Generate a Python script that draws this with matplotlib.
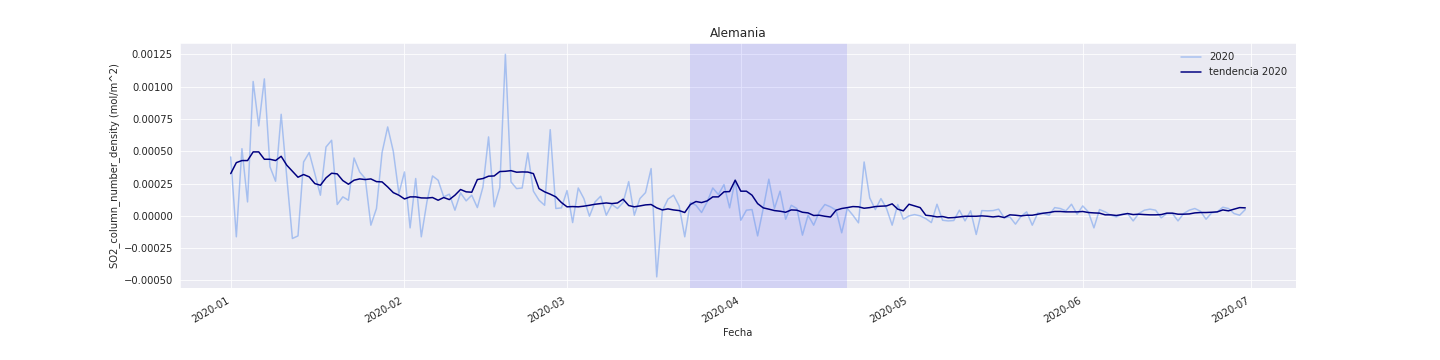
import matplotlib
matplotlib.use("Agg")
import matplotlib.pyplot as plt
import seaborn as sns
import numpy as np
import pandas as pd

# daily SO2 values, Germany 2020 (units of 1e-4 mol/m^2)
so2_2020 = [
    4.56, -1.62, 5.2, 1.08, 10.4, 6.96, 10.6, 3.8, 2.68, 7.86,
    3.0, -1.75, -1.55, 4.17, 4.9, 3.27, 1.6, 5.33, 5.85, 0.88,
    1.47, 1.21, 4.48, 3.4, 2.89, -0.72, 0.57, 4.9, 6.88, 5.0,
    1.73, 3.4, -0.93, 2.89, -1.62, 1.08, 3.09, 2.76, 1.47, 1.68,
    0.44, 1.78, 1.16, 1.6, 0.64, 2.24, 6.11, 0.7, 2.19, 12.5,
    2.63, 2.11, 2.16, 4.87, 1.91, 1.21, 0.82, 6.67, 0.57, 0.62,
    1.96, -0.52, 2.16, 1.34, -0.03, 1.08, 1.52, 0.05, 0.88, 0.57,
    1.03, 2.65, 0.05, 1.34, 1.8, 3.66, -4.72, 0.39, 1.29, 1.6,
    0.77, -1.62, 1.03, 0.82, 0.26, 1.08, 2.16, 1.65, 2.42, 0.62,
    2.76, -0.34, 0.44, 0.49, -1.55, 0.57, 2.84, 0.57, 1.91, -0.26,
    0.82, 0.57, -1.49, 0.05, -0.72, 0.31, 0.88, 0.7, 0.44, -1.31,
    0.57, 0.05, -0.54, 4.17, 1.39, 0.49, 1.34, 0.57, -0.72, 0.88,
    -0.26, 0.0, 0.1, 0.0, -0.21, -0.52, 0.9, -0.34, -0.39, -0.36,
    0.44, -0.39, 0.39, -1.44, 0.41, 0.39, 0.41, 0.52, -0.15, -0.08,
    -0.64, -0.03, 0.31, -0.72, 0.23, 0.18, 0.05, 0.64, 0.57, 0.39,
    0.9, 0.13, 0.77, 0.31, -0.93, 0.49, 0.31, 0.05, -0.08, 0.13,
    0.18, -0.39, 0.18, 0.44, 0.52, 0.44, -0.15, 0.18, 0.18, -0.39,
    0.18, 0.44, 0.57, 0.36, -0.26, 0.23, 0.31, 0.67, 0.57, 0.18,
    0.05, 0.49,
]

# trend line (units of 1e-4 mol/m^2)
tendencia_2020 = [
    3.27, 4.12, 4.28, 4.28, 4.95, 4.95, 4.38, 4.38, 4.28, 4.61,
    3.92, 3.45, 2.99, 3.2, 3.02, 2.5, 2.37, 2.94, 3.3, 3.25,
    2.73, 2.45, 2.76, 2.86, 2.81, 2.86, 2.65, 2.63, 2.24, 1.8,
    1.6, 1.31, 1.47, 1.47, 1.39, 1.38, 1.42, 1.21, 1.42, 1.26,
    1.6, 2.04, 1.86, 1.83, 2.81, 2.89, 3.07, 3.09, 3.43, 3.45,
    3.5, 3.38, 3.4, 3.39, 3.27, 2.11, 1.86, 1.68, 1.47, 1.03,
    0.7, 0.72, 0.7, 0.75, 0.82, 0.9, 0.95, 1.0, 0.95, 1.0,
    1.29, 0.8, 0.7, 0.77, 0.85, 0.88, 0.62, 0.46, 0.54, 0.46,
    0.41, 0.26, 0.88, 1.11, 1.03, 1.16, 1.47, 1.47, 1.86, 1.88,
    2.76, 1.91, 1.91, 1.6, 0.95, 0.62, 0.52, 0.41, 0.36, 0.28,
    0.46, 0.44, 0.28, 0.23, 0.03, 0.05, -0.03, -0.09, 0.44, 0.57,
    0.64, 0.72, 0.7, 0.59, 0.64, 0.72, 0.75, 0.77, 0.93, 0.52,
    0.39, 0.9, 0.77, 0.64, 0.05, 0.0, -0.08, -0.05, -0.15, -0.13,
    -0.08, -0.03, -0.03, -0.03, 0.0, -0.03, -0.08, -0.03, -0.13, 0.08,
    0.05, 0.0, 0.05, 0.05, 0.13, 0.21, 0.26, 0.34, 0.34, 0.31,
    0.31, 0.31, 0.34, 0.26, 0.23, 0.21, 0.08, 0.08, 0.03, 0.1,
    0.18, 0.1, 0.13, 0.1, 0.08, 0.08, 0.1, 0.21, 0.21, 0.13,
    0.13, 0.15, 0.23, 0.26, 0.26, 0.28, 0.31, 0.46, 0.39, 0.52,
    0.64, 0.62,
]

fecha_inicio = "2020-01-01"
confinamiento = ("2020-03-23", "2020-04-20")

fechas = pd.date_range(fecha_inicio, periods=len(so2_2020), freq="D")
valores = np.array(so2_2020) * 1e-4
tendencia = np.array(tendencia_2020) * 1e-4

sns.set_style("darkgrid")

fig, ax = plt.subplots(figsize=(20, 5), dpi=72)

ax.plot(fechas, valores, color="cornflowerblue", alpha=0.5, label="2020")
ax.plot(fechas, tendencia, color="navy", label="tendencia 2020")
# shaded lockdown period
ax.axvspan(pd.Timestamp(confinamiento[0]), pd.Timestamp(confinamiento[1]),
           facecolor="blue", alpha=0.1, linewidth=0)

ax.set_title("Alemania")
ax.set_xlabel("Fecha")
ax.set_ylabel("SO2_column_number_density (mol/m^2)")
ax.legend(loc="upper right", frameon=False)
fig.autofmt_xdate()

plt.savefig("out.png", dpi=72)
plt.close()
